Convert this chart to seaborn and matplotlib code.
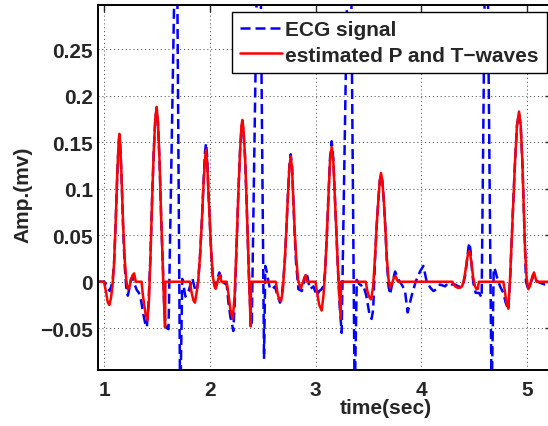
import numpy as np
import pandas as pd
import matplotlib
matplotlib.use('Agg')
import matplotlib.pyplot as plt
import seaborn as sns

# ECG signal (blue dashed)
ecg_t = [0.94, 1.00, 1.02, 1.04, 1.055, 1.07, 1.08, 1.095, 1.11, 1.125, 1.138, 1.145, 1.152, 1.165, 1.18,
         1.195, 1.21, 1.225, 1.24, 1.255, 1.27, 1.29, 1.31, 1.33, 1.35, 1.37, 1.39, 1.405, 1.42, 1.44,
         1.455, 1.47, 1.485, 1.498, 1.51, 1.525, 1.54, 1.555, 1.568, 1.58, 1.595, 1.61, 1.685, 1.72, 1.74,
         1.77, 1.80, 1.835, 1.86, 1.875, 1.89, 1.908, 1.925, 1.94, 1.955, 1.965, 1.975, 1.986, 2.0, 2.012,
         2.03, 2.05, 2.07, 2.09, 2.11, 2.128, 2.16, 2.176, 2.195, 2.21, 2.222, 2.235, 2.255, 2.27, 2.286,
         2.3, 2.308, 2.318, 2.334, 2.347, 2.359, 2.372, 2.385, 2.397, 2.468, 2.513, 2.525, 2.54, 2.555, 2.57,
         2.59, 2.617, 2.64, 2.664, 2.68, 2.695, 2.712, 2.725, 2.737, 2.752, 2.765, 2.778, 2.79, 2.803, 2.816,
         2.838, 2.87, 2.895, 2.916, 2.932, 2.948, 2.98, 3.011, 3.035, 3.058, 3.075, 3.09, 3.105, 3.121, 3.137,
         3.153, 3.168, 3.184, 3.2, 3.215, 3.228, 3.247, 3.325, 3.37, 3.39, 3.41, 3.43, 3.45, 3.48, 3.51,
         3.53, 3.545, 3.563, 3.578, 3.594, 3.607, 3.619, 3.632, 3.645, 3.66, 3.673, 3.69, 3.705, 3.725, 3.752,
         3.783, 3.82, 3.846, 3.871, 3.909, 3.947, 3.988, 4.02, 4.051, 4.083, 4.114, 4.146, 4.177, 4.225, 4.256,
         4.288, 4.319, 4.35, 4.382, 4.40, 4.414, 4.43, 4.445, 4.455, 4.465, 4.48, 4.492, 4.514, 4.546, 4.571,
         4.615, 4.665, 4.685, 4.70, 4.72, 4.745, 4.776, 4.798, 4.823, 4.84, 4.855, 4.87, 4.886, 4.905, 4.924,
         4.94, 4.956, 4.968, 4.981, 4.99, 5.012, 5.035, 5.06, 5.09, 5.12, 5.17, 5.24]
ecg_v = [0.0, 0.0, -0.003, -0.008, -0.01, -0.004, 0.0, 0.02, 0.063, 0.115, 0.148, 0.156, 0.15, 0.115, 0.06,
         0.018, -0.006, -0.015, -0.007, 0.003, 0.005, -0.003, -0.009, -0.012, -0.02, -0.034, -0.045, -0.049, -0.025, 0.03,
         0.09, 0.14, 0.175, 0.186, 0.17, 0.13, 0.07, 0.02, -0.022, -0.045, -0.05, -0.051, 0.45, -0.14, 0.003,
         -0.016, -0.01, 0.004, -0.008, -0.01, 0.0, 0.028, 0.065, 0.105, 0.14, 0.149, 0.135, 0.1, 0.065, 0.035,
         0.002, -0.005, 0.002, 0.01, 0.004, -0.001, -0.003, -0.022, -0.038, -0.045, -0.053, -0.025, 0.045, 0.095, 0.14,
         0.166, 0.17, 0.162, 0.132, 0.09, 0.045, 0.0, -0.035, -0.0475, 0.5, -0.083, 0.017, 0.01, 0.0, -0.008,
         -0.008, -0.005, -0.015, -0.0225, -0.015, 0.0, 0.028, 0.06, 0.09, 0.124, 0.137, 0.124, 0.088, 0.05, 0.02,
         -0.008, -0.01, 0.002, 0.01, 0.0, -0.008, -0.005, -0.015, -0.01, -0.008, -0.004, 0.01, 0.045, 0.09, 0.133,
         0.151, 0.132, 0.088, 0.045, 0.006, -0.025, -0.055, 0.5, -0.13, 0.002, -0.002, -0.004, -0.003, -0.015, -0.035,
         -0.04, -0.03, 0.025, 0.06, 0.088, 0.108, 0.116, 0.108, 0.088, 0.058, 0.025, -0.005, -0.0136, -0.002, 0.011,
         0.0025, -0.004, -0.01, -0.033, -0.015, 0.0, 0.011, 0.017, 0.0, -0.006, -0.01, -0.008, -0.003, -0.005, -0.001,
         -0.003, -0.003, -0.005, -0.006, 0.0, 0.006, 0.02, 0.036, 0.042, 0.034, 0.012, -0.001, -0.012, -0.012, -0.017,
         0.5, -0.13, 0.015, 0.012, 0.003, -0.005, -0.012, -0.0225, -0.03, 0.003, 0.045, 0.087, 0.128, 0.168, 0.181,
         0.168, 0.128, 0.085, 0.035, 0.0, -0.008, -0.001, 0.006, 0.001, -0.001, -0.003, -0.002]

# estimated P and T waves (red solid)
est_t = [0.94, 1.0, 1.02, 1.035, 1.05, 1.065, 1.08, 1.095, 1.11, 1.125, 1.138, 1.145, 1.152, 1.165, 1.18,
         1.195, 1.21, 1.225, 1.24, 1.255, 1.27, 1.285, 1.295, 1.30, 1.355, 1.365, 1.38, 1.395, 1.41, 1.425,
         1.44, 1.455, 1.47, 1.485, 1.498, 1.51, 1.525, 1.54, 1.555, 1.568, 1.577, 1.58, 1.813, 1.825, 1.845,
         1.86, 1.875, 1.89, 1.908, 1.925, 1.94, 1.955, 1.965, 1.975, 1.986, 2.0, 2.012, 2.03, 2.045, 2.056,
         2.07, 2.085, 2.097, 2.105, 2.11, 2.16, 2.175, 2.195, 2.217, 2.235, 2.255, 2.27, 2.286, 2.3, 2.308,
         2.318, 2.334, 2.347, 2.359, 2.372, 2.387, 2.39, 2.624, 2.64, 2.655, 2.674, 2.69, 2.712, 2.725, 2.737,
         2.752, 2.765, 2.778, 2.79, 2.803, 2.816, 2.835, 2.86, 2.88, 2.895, 2.907, 2.915, 2.92, 3.0, 3.015,
         3.035, 3.058, 3.075, 3.09, 3.105, 3.121, 3.137, 3.153, 3.168, 3.184, 3.2, 3.215, 3.228, 3.238, 3.242,
         3.475, 3.49, 3.505, 3.525, 3.545, 3.563, 3.578, 3.594, 3.607, 3.619, 3.632, 3.645, 3.66, 3.673, 3.69,
         3.705, 3.72, 3.74, 3.758, 3.77, 3.78, 4.294, 4.32, 4.345, 4.366, 4.385, 4.40, 4.415, 4.43, 4.442,
         4.452, 4.462, 4.475, 4.49, 4.508, 4.522, 4.533, 4.545, 4.776, 4.79, 4.805, 4.823, 4.84, 4.855, 4.87,
         4.886, 4.905, 4.924, 4.94, 4.956, 4.968, 4.981, 4.995, 5.012, 5.03, 5.05, 5.066, 5.08, 5.09, 5.24]
est_v = [0, 0, -0.012, -0.022, -0.025, -0.018, -0.005, 0.02, 0.063, 0.115, 0.15, 0.159, 0.15, 0.115, 0.063,
         0.025, 0.002, -0.008, -0.006, 0.002, 0.007, 0.009, 0.003, 0, 0, -0.012, -0.025, -0.036, -0.041, -0.02,
         0.03, 0.09, 0.14, 0.176, 0.188, 0.172, 0.13, 0.07, 0.02, -0.025, -0.049, 0, 0, -0.01, -0.02,
         -0.0225, -0.012, 0.0, 0.028, 0.065, 0.103, 0.132, 0.142, 0.13, 0.099, 0.065, 0.035, 0.005, -0.005, -0.0075,
         -0.002, 0.005, 0.007, 0.003, 0, 0, -0.012, -0.03, -0.04, -0.015, 0.045, 0.095, 0.14, 0.168, 0.174,
         0.165, 0.134, 0.09, 0.045, 0.0, -0.048, 0, 0, -0.012, -0.019, -0.021, -0.01, 0.0275, 0.06, 0.088,
         0.122, 0.135, 0.122, 0.088, 0.055, 0.0275, 0.002, -0.0075, -0.001, 0.005, 0.007, 0.002, 0, 0, -0.012,
         -0.025, -0.031, -0.015, 0.01, 0.045, 0.088, 0.13, 0.145, 0.13, 0.088, 0.045, 0.006, -0.02, -0.04, 0,
         0, -0.01, -0.016, -0.019, -0.005, 0.0275, 0.06, 0.088, 0.108, 0.117, 0.108, 0.088, 0.058, 0.0275, 0.003,
         -0.0065, -0.003, 0.004, 0.006, 0.002, 0, 0, -0.005, -0.0065, -0.0065, -0.005, 0.0, 0.01, 0.022, 0.03,
         0.033, 0.03, 0.02, 0.005, -0.005, -0.008, -0.008, 0, 0, -0.01, -0.022, -0.029, 0.005, 0.045, 0.087,
         0.128, 0.168, 0.183, 0.168, 0.128, 0.085, 0.035, 0.005, -0.008, -0.004, 0.006, 0.01, 0.004, 0, 0]

x_ticks = [1, 2, 3, 4, 5]
y_ticks = [-0.05, 0, 0.05, 0.1, 0.15, 0.2, 0.25]
y_tick_labels = ['\u22120.05', '0', '0.05', '0.1', '0.15', '0.2', '0.25']

ecg = pd.DataFrame({'t': ecg_t, 'v': ecg_v})
est = pd.DataFrame({'t': est_t, 'v': est_v})

sns.set_style('white')
plt.rcParams['font.family'] = ['Liberation Sans', 'DejaVu Sans']
plt.rcParams['font.weight'] = 'bold'

fig = plt.figure(figsize=(5.48, 4.27), dpi=100)
ax = fig.add_axes([98 / 548, 56 / 427, 454 / 548, 365 / 427])

sns.lineplot(x='t', y='v', data=ecg, ax=ax, color='blue', lw=1.8, estimator=None, sort=False,
             label='ECG signal')
ax.lines[-1].set_linestyle((0, (4, 2)))
sns.lineplot(x='t', y='v', data=est, ax=ax, color='red', lw=1.8, estimator=None, sort=False,
             label='estimated P and T\u2212waves')

ax.set_xlim(0.943, 5.236)
ax.set_ylim(-0.0949, 0.2975)
ax.set_xticks(x_ticks)
ax.set_xticklabels([str(v) for v in x_ticks])
ax.set_yticks(y_ticks)
ax.set_yticklabels(y_tick_labels)
ax.tick_params(direction='in', length=5, width=1, top=True, right=True, labelsize=15)
ax.tick_params(axis='x', pad=7)
ax.tick_params(axis='y', pad=3.5)
for s in ax.spines.values():
    s.set_linewidth(1.4)
    s.set_color('black')

ax.grid(True, linestyle=(0, (1, 3)), color='0.25', lw=0.7)
ax.set_axisbelow(True)

ax.set_xlabel('time(sec)', fontsize=15, fontweight='bold')
ax.set_ylabel('Amp.(mv)', fontsize=15, fontweight='bold')
ax.xaxis.set_label_coords(0.634, -0.078)
ax.yaxis.set_label_coords(-0.145, 0.482)

ax.legend(loc='upper right', bbox_to_anchor=(0.989, 0.981), borderaxespad=0,
          prop={'size': 15, 'weight': 'bold'},
          frameon=True, fancybox=False, edgecolor='black', framealpha=1, handlelength=2.0,
          handletextpad=0.15, labelspacing=0.3, borderpad=0.4)
ax.get_legend().get_frame().set_linewidth(1.0)

plt.savefig('out.png', dpi=100)
